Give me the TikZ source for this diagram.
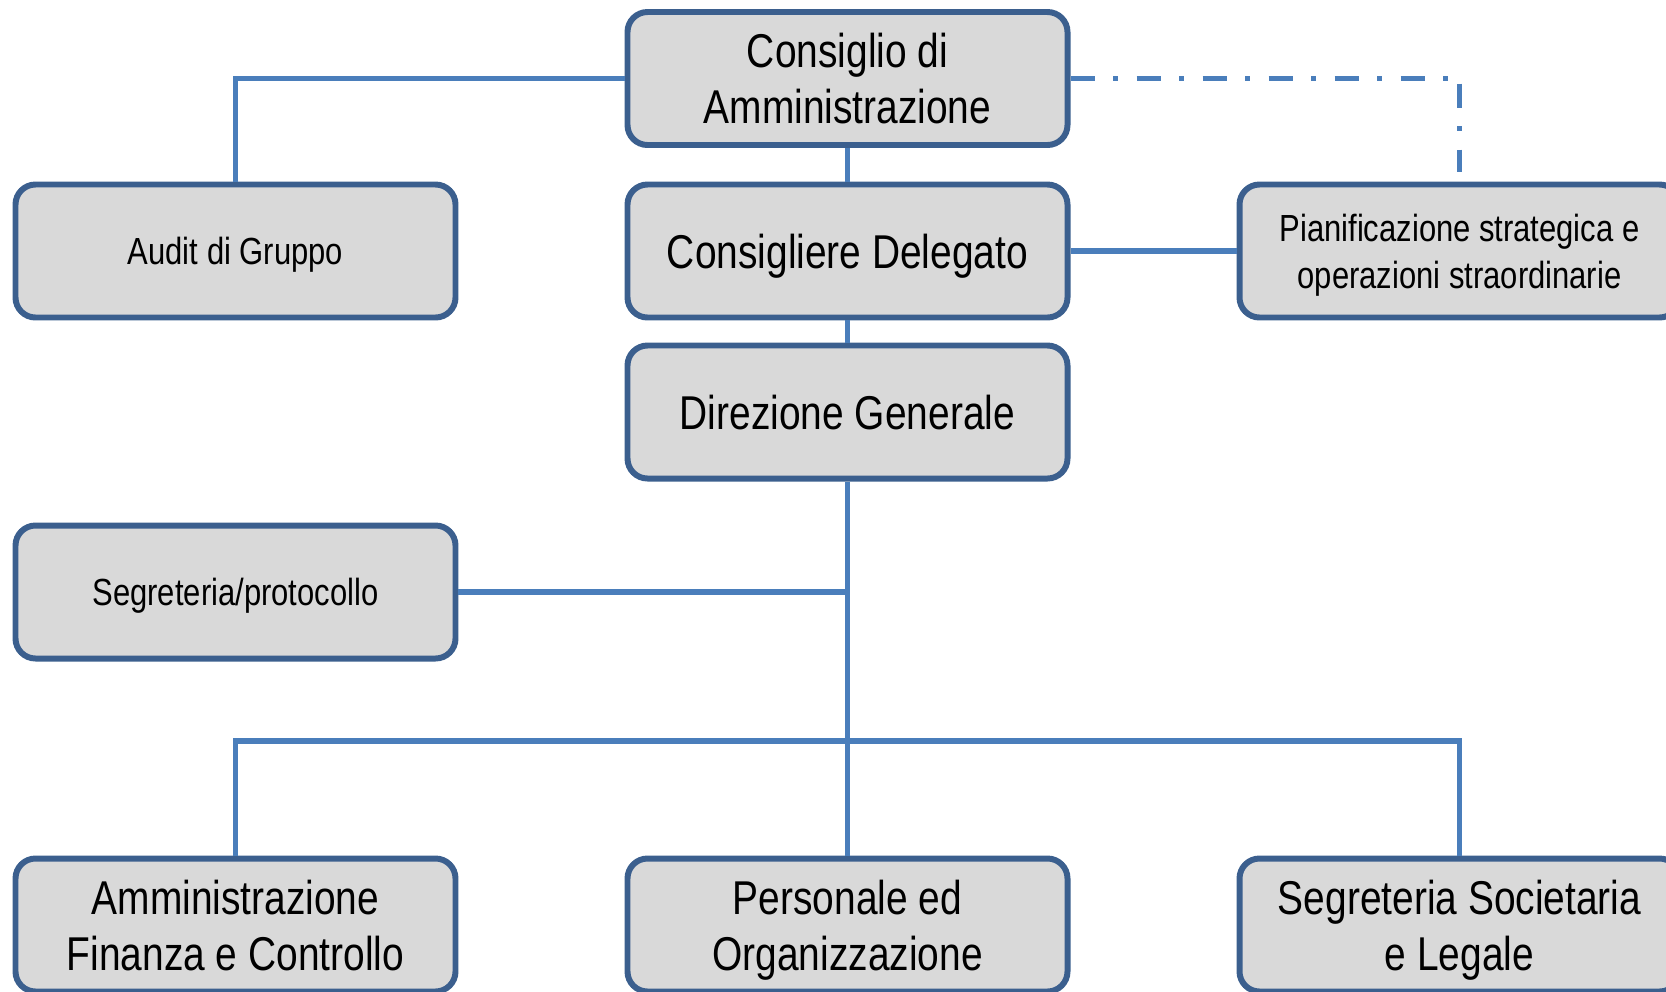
\documentclass[tikz,border=0pt]{standalone}
\usepackage{fontspec}
\setmainfont{Liberation Sans}[FakeStretch=0.82]
\usetikzlibrary{positioning}
\definecolor{boxfill}{HTML}{D9D9D9}
\definecolor{boxline}{HTML}{3B5F8E}
\definecolor{linkblue}{HTML}{4A7EBB}

\begin{document}
\begin{tikzpicture}[on grid, text centered,
        orgbox/.style={draw=boxline, fill=boxfill, line width=3.4pt, rounded corners=0.4cm,
            minimum width=8.8cm, minimum height=2.66cm, align=center, inner sep=0pt, text depth=0pt},
        bigtext/.style={font=\fontsize{27}{32}\selectfont},
        smalltext/.style={font=\fontsize{21.5}{26.6}\selectfont},
        link/.style={draw=linkblue, line width=3.3pt},
        dashlink/.style={link, dash pattern=on 0.48cm off 0.37cm on 0.1cm off 0.37cm}]
        \useasboundingbox (0,0) rectangle (33.32,-19.82);

        \node[orgbox, bigtext] (cda) at (16.95,-1.57) {Consiglio di\\Amministrazione};
        \node[orgbox, bigtext, below = 3.45cm of cda] (cd) {Consigliere Delegato};
        \node[orgbox, smalltext, left = 12.24cm of cd] (audit) {Audit di Gruppo};
        \node[orgbox, smalltext, right = 12.24cm of cd] (pian) {Pianificazione strategica e\\operazioni straordinarie};
        \node[orgbox, bigtext, below = 3.22cm of cd] (dg) {Direzione Generale};
        \node[orgbox, smalltext, below left = 3.6cm and 12.24cm of dg] (segr) {Segreteria/protocollo};

        \node[orgbox, bigtext, below = 10.26cm of dg] (pers) {Personale ed\\Organizzazione};
        \node[orgbox, bigtext, left = 12.24cm of pers] (afc) {Amministrazione\\Finanza e Controllo};
        \node[orgbox, bigtext, right = 12.24cm of pers] (ssl) {Segreteria Societaria\\e Legale};

        \coordinate[below = 6.58cm of dg] (bus);
        \coordinate (dashcorner) at (cda.east -| pian.north);
        \coordinate[below = 0.1cm of dashcorner] (dashstart);
        \coordinate[above = 0.2cm of pian.north] (piantop);

        \draw[link] (cda.west) -| (audit.north);
        \draw[link] (cda.south) -- (cd.north);
        \draw[dashlink] (cda.east) -- (dashcorner);
        \draw[dashlink] (dashstart) -- (piantop);
        \draw[link] (cd.east) -- (pian.west);
        \draw[link] (cd.south) -- (dg.north);

        \draw[link] (dg.south) -- (pers.north);
        \draw[link] (segr.east) -- (segr.east -| dg.south);
        \draw[link] (afc.north) |- (bus) -| (ssl.north);
\end{tikzpicture}
\end{document}
